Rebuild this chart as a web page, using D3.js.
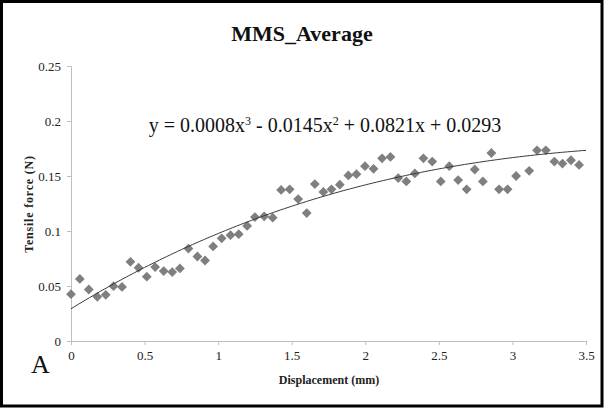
<!DOCTYPE html>
<html>
<head>
<meta charset="utf-8">
<script src="https://cdn.jsdelivr.net/npm/d3@7"></script>
<style>
  html, body { margin: 0; padding: 0; background: #fff; }
  svg { display: block; }
  svg text { font-family: "Liberation Serif", "Times New Roman", serif !important; }
</style>
</head>
<body>
<svg id="chart" width="604" height="408"></svg>
<script>
// Displacement (mm) of each averaged sample
const displacement = [
  0.000, 0.060, 0.121, 0.179, 0.236, 0.289, 0.347, 0.404, 0.459, 0.515,
  0.572, 0.630, 0.688, 0.740, 0.798, 0.859, 0.911, 0.966, 1.024, 1.084,
  1.140, 1.197, 1.250, 1.313, 1.371, 1.428, 1.486, 1.544, 1.602, 1.657,
  1.715, 1.770, 1.827, 1.885, 1.940, 1.998, 2.056, 2.114, 2.171, 2.224,
  2.279, 2.337, 2.395, 2.455, 2.513, 2.571, 2.631, 2.689, 2.744, 2.799,
  2.857, 2.909, 2.967, 3.025, 3.114, 3.167, 3.227, 3.285, 3.340, 3.398,
  3.453
];
// Tensile force (N) averaged at each displacement
const tensileForce = [
  0.0426, 0.0564, 0.0468, 0.0402, 0.0420, 0.0498, 0.0492, 0.0720, 0.0666, 0.0585,
  0.0672, 0.0636, 0.0627, 0.0660, 0.0840, 0.0768, 0.0732, 0.0860, 0.0933, 0.0962,
  0.0971, 0.1046, 0.1127, 0.1133, 0.1121, 0.1373, 0.1379, 0.1290, 0.1163, 0.1427,
  0.1355, 0.1379, 0.1421, 0.1505, 0.1517, 0.1589, 0.1565, 0.1661, 0.1673, 0.1481,
  0.1451, 0.1523, 0.1661, 0.1631, 0.1451, 0.1589, 0.1463, 0.1379, 0.1559, 0.1451,
  0.1709, 0.1379, 0.1379, 0.1500, 0.1547, 0.1733, 0.1733, 0.1631, 0.1613, 0.1643,
  0.1601
];
// Cubic trendline coefficients, highest power first
const trendCoefficients = [0.0008, -0.0145, 0.0821, 0.0293];
const trendLabel = ["y = 0.0008x", "3", " - 0.0145x", "2", " + 0.0821x + 0.0293"];

const xTicks = [0, 0.5, 1, 1.5, 2, 2.5, 3, 3.5];
const yTicks = [0, 0.05, 0.1, 0.15, 0.2, 0.25];

const titleText = "MMS_Average";
const xAxisTitle = "Displacement (mm)";
const yAxisTitle = "Tensile force (N)";
const panelLetter = "A";

const SERIF = "'Liberation Serif', 'Times New Roman', serif";
const svg = d3.select("#chart");
const W = 604, H = 408;

svg.append("rect").attr("x", 0).attr("y", 0).attr("width", W).attr("height", H).attr("fill", "#fff");
svg.append("rect")
  .attr("x", 1.5).attr("y", 1.5).attr("width", W - 3.5).attr("height", H - 3.5)
  .attr("fill", "none").attr("stroke", "#000").attr("stroke-width", 3);

const plot = { left: 71, right: 586, top: 66, bottom: 341 };

const x = d3.scaleLinear().domain([0, 3.5]).range([plot.left, plot.right]);
const y = d3.scaleLinear().domain([0, 0.25]).range([plot.bottom, plot.top]);

const fmt = d => d3.format("")(+d.toFixed(2));

// Axes
const xAxis = svg.append("g")
  .attr("transform", `translate(0,${plot.bottom})`)
  .call(d3.axisBottom(x).tickValues(xTicks).tickSize(4).tickPadding(6).tickFormat(fmt));
const yAxis = svg.append("g")
  .attr("transform", `translate(${plot.left},0)`)
  .call(d3.axisLeft(y).tickValues(yTicks).tickSize(4).tickPadding(6).tickFormat(fmt));

[xAxis, yAxis].forEach(g => {
  g.attr("font-family", SERIF).attr("font-size", 13);
  g.select(".domain").attr("stroke", "#bfbfbf").attr("stroke-width", 1);
  g.selectAll(".tick line").attr("stroke", "#bfbfbf");
  g.selectAll(".tick text").attr("fill", "#222");
});

// Markers
const diamond = d3.symbol().type(d3.symbolSquare).size(48);
svg.append("g")
  .selectAll("path")
  .data(displacement.map((d, i) => [d, tensileForce[i]]))
  .join("path")
  .attr("d", diamond)
  .attr("transform", d => `translate(${x(d[0])},${y(d[1])}) rotate(45)`)
  .attr("fill", "#7f7f7f");

// Polynomial trendline
const poly = v => trendCoefficients.reduce((acc, c) => acc * v + c, 0);
const trendX = d3.range(0, 3.5001, 0.025);
svg.append("path")
  .datum(trendX)
  .attr("fill", "none")
  .attr("stroke", "#3a3a3a")
  .attr("stroke-width", 1)
  .attr("d", d3.line().x(v => x(v)).y(v => y(poly(v))));

// Title
svg.append("text")
  .attr("x", 302).attr("y", 41)
  .attr("text-anchor", "middle")
  .attr("font-family", SERIF)
  .attr("font-size", 22).attr("font-weight", "bold")
  .attr("fill", "#111")
  .text(titleText);

// Trendline equation
const eq = svg.append("text")
  .attr("x", 325).attr("y", 132)
  .attr("text-anchor", "middle")
  .attr("font-family", SERIF)
  .attr("font-size", 20)
  .attr("fill", "#111");
trendLabel.forEach((part, i) => {
  const sup = i === 1 || i === 3;
  eq.append("tspan")
    .attr("dy", sup ? -7 : (i > 0 ? 7 : 0))
    .attr("font-size", sup ? 12 : 20)
    .text(part);
});

// Axis titles
svg.append("text")
  .attr("x", 329).attr("y", 384)
  .attr("text-anchor", "middle")
  .attr("font-family", SERIF)
  .attr("font-size", 12).attr("font-weight", "bold")
  .attr("fill", "#222")
  .text(xAxisTitle);

svg.append("text")
  .attr("transform", "translate(33,204) rotate(-90)")
  .attr("text-anchor", "middle")
  .attr("font-family", SERIF)
  .attr("font-size", 12).attr("font-weight", "bold")
  .attr("letter-spacing", "0.8px")
  .attr("fill", "#222")
  .text(yAxisTitle);

// Panel letter
svg.append("text")
  .attr("x", 31).attr("y", 373)
  .attr("font-family", SERIF)
  .attr("font-size", 26)
  .attr("fill", "#111")
  .text(panelLetter);
</script>
</body>
</html>
